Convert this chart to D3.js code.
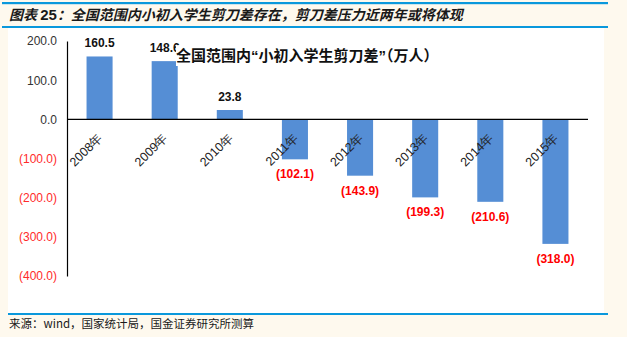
<!DOCTYPE html>
<html><head><meta charset="utf-8">
<script src="https://cdn.jsdelivr.net/npm/d3@7"></script>
<style>
html,body{margin:0;padding:0;background:#fef9ee;}
svg{display:block;}
</style></head>
<body>
<svg id="chart" width="627" height="337"></svg>
<script>
const categories = ["2008年","2009年","2010年","2011年","2012年","2013年","2014年","2015年"];
const values = [160.5, 148.6, 23.8, -102.1, -143.9, -199.3, -210.6, -318.0];
const yTicks = [200, 100, 0, -100, -200, -300, -400];
const headerTitle = "图表 25：全国范围内小初入学生剪刀差存在，剪刀差压力近两年或将体现";
const chartTitle = "全国范围内“小初入学生剪刀差”（万人）";
const sourceText = "来源：wind，国家统计局，国金证券研究所测算";

const svg = d3.select("#chart");
const fmt = v => v < 0 ? "(" + d3.format(".1f")(-v) + ")" : d3.format(".1f")(v);

// background panels
svg.append("rect").attr("x",0).attr("y",0).attr("width",627).attr("height",337).attr("fill","#fef9ee");
svg.append("rect").attr("x",8).attr("y",28).attr("width",596).attr("height",285).attr("fill","#ffffff");
// header lines
svg.append("rect").attr("x",2).attr("y",2).attr("width",606).attr("height",2.2).attr("fill","#0a98dc");
svg.append("rect").attr("x",2).attr("y",26).attr("width",606).attr("height",2).attr("fill","#0a98dc");
svg.append("rect").attr("x",8).attr("y",313).attr("width",600).attr("height",2).attr("fill","#0a98dc");

// header title
const ht = svg.append("text").attr("x",9).attr("y",20)
  .attr("font-family","'Noto Sans CJK SC', sans-serif").attr("font-size",14)
  .attr("font-style","italic").attr("font-weight",600).attr("fill","#1a1a1a");
ht.append("tspan").text("图表 ");
ht.append("tspan").attr("font-family","Liberation Sans, Arial, sans-serif").attr("font-weight",700).attr("font-style","normal").attr("font-size",15).text("25");
ht.append("tspan").text(headerTitle.slice(5));

// source
svg.append("text").attr("x",9).attr("y",328)
  .attr("font-family","'Noto Sans CJK SC', sans-serif").attr("font-size",11.5)
  .attr("fill","#1a1a1a").text(sourceText);

// scales
const x = d3.scaleBand().domain(categories).range([67, 588]).paddingInner(0.6).paddingOuter(0.3);
const y = d3.scaleLinear().domain([-400, 200]).range([276, 41]);

// y axis
const yAxis = d3.axisLeft(y).tickValues(yTicks).tickSize(0).tickPadding(10).tickFormat(fmt);
const ga = svg.append("g").attr("transform","translate(67,0)").call(yAxis);
ga.select(".domain").attr("stroke","#000").attr("stroke-width",1.2);
ga.selectAll("text")
  .attr("font-family","Liberation Sans, Arial, sans-serif").attr("font-size",12)
  .attr("fill", d => d < 0 ? "#ff2a2a" : "#333333");

// bars
svg.append("g").selectAll("rect").data(values).join("rect")
  .attr("x",(d,i)=>x(categories[i]))
  .attr("width",x.bandwidth())
  .attr("y",d=>y(Math.max(0,d)))
  .attr("height",d=>Math.abs(y(d)-y(0)))
  .attr("fill","#558ed5");

// zero line
svg.append("line").attr("x1",67).attr("x2",588).attr("y1",y(0)).attr("y2",y(0))
  .attr("stroke","#000").attr("stroke-width",1.2);

// category labels
svg.append("g").selectAll("text").data(categories).join("text")
  .attr("transform",d=>`translate(${x(d)+x.bandwidth()/2+4},${y(0)+19}) rotate(-45)`)
  .attr("text-anchor","end")
  .attr("font-family","Liberation Sans, Arial, sans-serif").attr("font-size",12.5)
  .attr("fill","#222").text(d=>d);

// value labels
svg.append("g").selectAll("text").data(values).join("text")
  .attr("x",(d,i)=>x(categories[i])+x.bandwidth()/2)
  .attr("y",d=> d>=0 ? y(d)-9 : y(d)+19)
  .attr("text-anchor","middle")
  .attr("font-family","Liberation Sans, Arial, sans-serif").attr("font-size",12).attr("font-weight",700)
  .attr("fill",d=> d>=0 ? "#111" : "#ff0000")
  .text(fmt);

// chart title with white box
svg.append("rect").attr("x",176).attr("y",46).attr("width",260).attr("height",20).attr("fill","#fff");
const ct = svg.append("text").attr("x",176).attr("y",61)
  .attr("font-family","'Noto Sans CJK SC', sans-serif").attr("font-size",15).attr("font-weight",700)
  .attr("fill","#111");
chartTitle.split(/([“”])/).forEach(part => {
  if (!part) return;
  const t = ct.append("tspan").text(part);
  if (part === "“" || part === "”") t.attr("font-family","Liberation Sans, Arial, sans-serif");
});
</script>
</body></html>
